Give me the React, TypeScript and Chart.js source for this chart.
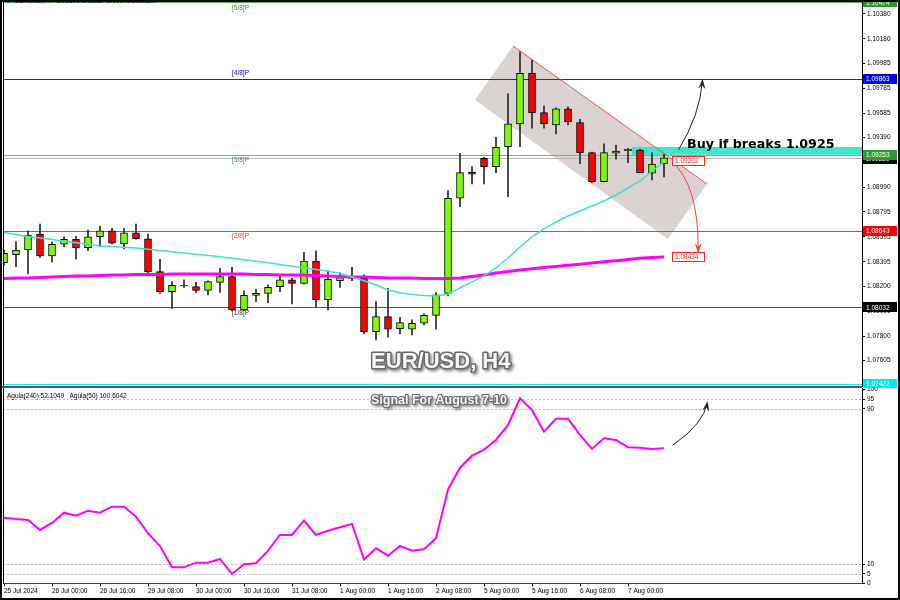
import React, { useEffect, useRef } from "react";
import { Chart, registerables } from "chart.js";
Chart.register(...registerables);

// ---- Candles (EURUSD H4), index 0 = 25 Jul 08:00 ----
const opens = [1.08389,1.08453,1.08491,1.08619,1.08443,1.08537,1.08577,1.08509,1.08597,1.08645,1.08539,1.08629,1.08581,1.08317,1.08157,1.08207,1.08197,1.08168,1.08232,1.08277,1.08011,1.08128,1.08144,1.08197,1.08251,1.08224,1.08403,1.08091,1.08245,1.08267,1.08264,1.07837,1.07957,1.07861,1.07856,1.07904,1.07968,1.08144,1.08905,1.09115,1.09225,1.09158,1.09318,1.09500,1.09905,1.09590,1.09492,1.09620,1.09510,1.09270,1.09038,1.09265,1.09286,1.09291,1.09105,1.09179];
const highs = [1.08491,1.08558,1.08645,1.08699,1.08555,1.08597,1.08603,1.08651,1.08683,1.08665,1.08665,1.08699,1.08619,1.08417,1.08237,1.08251,1.08232,1.08243,1.08344,1.08352,1.08163,1.08176,1.08211,1.08297,1.08264,1.08473,1.08485,1.08325,1.08309,1.08352,1.08291,1.08077,1.08184,1.07952,1.07931,1.07979,1.08149,1.08966,1.09265,1.09158,1.09233,1.09393,1.09740,1.10078,1.10012,1.09644,1.09628,1.09636,1.09537,1.09275,1.09340,1.09331,1.09305,1.09297,1.09270,1.09257];
const lows = [1.08371,1.08357,1.08299,1.08432,1.08393,1.08517,1.08417,1.08485,1.08517,1.08539,1.08499,1.08577,1.08309,1.08144,1.08024,1.08192,1.08149,1.08131,1.08152,1.08003,1.08005,1.08077,1.08069,1.08157,1.08059,1.08219,1.08032,1.08011,1.08192,1.08245,1.07819,1.07771,1.07792,1.07819,1.07811,1.07891,1.07856,1.08123,1.08838,1.09019,1.09019,1.09110,1.08918,1.09318,1.09465,1.09465,1.09419,1.09492,1.09181,1.09030,1.09035,1.09217,1.09190,1.09107,1.09051,1.09075];
const closes = [1.08464,1.08491,1.08611,1.08443,1.08537,1.08577,1.08509,1.08597,1.08645,1.08545,1.08629,1.08581,1.08315,1.08157,1.08208,1.08203,1.08168,1.08237,1.08277,1.08011,1.08128,1.08144,1.08192,1.08251,1.08224,1.08403,1.08091,1.08256,1.08269,1.08264,1.07837,1.07957,1.07856,1.07909,1.07904,1.07968,1.08131,1.08905,1.09110,1.09097,1.09158,1.09313,1.09500,1.09905,1.09590,1.09500,1.09620,1.09518,1.09270,1.09038,1.09270,1.09283,1.09297,1.09110,1.09179,1.09229];

// ---- Moving averages ----
const maFast = [1.08631,1.08615,1.08599,1.08587,1.08575,1.08561,1.08549,1.08536,1.08523,1.08518,1.08512,1.08507,1.08497,1.08487,1.08477,1.08466,1.08457,1.08447,1.08437,1.08425,1.08413,1.08401,1.08389,1.08375,1.08361,1.08349,1.08335,1.08320,1.08304,1.08275,1.08245,1.08211,1.08171,1.08149,1.08134,1.08127,1.08123,1.08139,1.08187,1.08235,1.08283,1.08347,1.08427,1.08515,1.08595,1.08659,1.08715,1.08763,1.08803,1.08843,1.08883,1.08931,1.08987,1.09043,1.09123,1.09195];
const maSlow = [1.08263,1.08267,1.08267,1.08271,1.08275,1.08279,1.08283,1.08283,1.08287,1.08291,1.08291,1.08295,1.08295,1.08295,1.08299,1.08299,1.08299,1.08299,1.08299,1.08299,1.08299,1.08295,1.08295,1.08291,1.08291,1.08291,1.08287,1.08283,1.08279,1.08275,1.08275,1.08271,1.08267,1.08267,1.08267,1.08263,1.08263,1.08263,1.08267,1.08279,1.08291,1.08307,1.08319,1.08331,1.08341,1.08350,1.08359,1.08368,1.08377,1.08387,1.08396,1.08405,1.08414,1.08424,1.08430,1.08434];

// ---- Oscillator (Agula) ----
const oscValues = [33.9,33.2,32.7,27.6,31.2,36.5,34.9,37.5,36.5,39.6,39.6,34.4,25.9,19.3,8.3,8.3,10.7,10.7,12.6,4.9,9.9,10.4,16.9,25.0,25.0,32.4,25.0,27.2,29.0,30.7,12.4,18.1,14.3,19.3,16.9,17.6,23.3,48.5,59.7,65.9,68.9,74.0,81.8,95.5,89.5,78.3,84.9,84.9,76.6,69.4,74.9,74.0,70.2,70.0,69.4,69.7];
const oscLevels = [95, 90, 10, 5];
const oscTicks = [100, 95, 90, 10, 5, 0];

// ---- Axes ----
const timeLabels = ["25 Jul 2024","26 Jul 00:00","26 Jul 16:00","29 Jul 08:00","30 Jul 00:00","30 Jul 16:00","31 Jul 08:00","1 Aug 00:00","1 Aug 16:00","2 Aug 08:00","5 Aug 00:00","5 Aug 16:00","6 Aug 08:00","7 Aug 00:00"];
const timeTickIdx = [0,4,8,12,16,20,24,28,32,36,40,44,48,52];
const priceTicks = [1.10380,1.10180,1.09985,1.09785,1.09585,1.09390,1.09190,1.08990,1.08795,1.08595,1.08395,1.08200,1.08000,1.07800,1.07605];

// ---- Murrey levels ----
const murreyLevels = [1.10474, 1.09863, 1.09253, 1.08643, 1.08032, 1.07422];
const murreyNames = ["[5/8]P", "[4/8]P", "[3/8]P", "[2/8]P", "[1/8]P", "[0/8]P"];
const murreyLineColors = ["#49b049", "#1a1aff", "#6abf6a", "#ff3030", "#555555", "#22e8ee"];
const murreyBoxColors = ["#2f9a2f", "#0000ff", "#2f9a2f", "#ff0000", "#000000", "#00e8f0"];
const murreyTextColors = ["#2f9a2f", "#0000ff", "#2f9a2f", "#ff3030", "#333333", "#00d0d8"];
const murreyTextAbove = [false, true, false, false, false, false];
const bidPrice = 1.09229;

// ---- Annotations (index, price) ----
const channelI = [42.42, 58.58, 55.33, 39.25];
const channelP = [1.10124, 1.09019, 1.08579, 1.09692];
const zoneStartI = 52.33;
const zoneTop = 1.09316;
const zoneBottom = 1.09253;
const targetUp = 1.09202;
const targetDown = 1.08434;

const FONT = "'Liberation Sans', Arial, sans-serif";

function curvedArrow(ctx: CanvasRenderingContext2D, x0: number, y0: number, cx: number, cy: number, x1: number, y1: number, color: string, lw: number) {
  ctx.save();
  ctx.strokeStyle = color;
  ctx.lineWidth = lw;
  ctx.beginPath();
  ctx.moveTo(x0, y0);
  ctx.quadraticCurveTo(cx, cy, x1, y1);
  ctx.stroke();
  const ang = Math.atan2(y1 - cy, x1 - cx);
  const L = 8, W = 3.5;
  const c = Math.cos(ang), s = Math.sin(ang);
  ctx.fillStyle = color;
  ctx.beginPath();
  ctx.moveTo(x1 + c * 2, y1 + s * 2);
  ctx.lineTo(x1 - c * L + s * W, y1 - s * L - c * W);
  ctx.lineTo(x1 - c * L * 0.55, y1 - s * L * 0.55);
  ctx.lineTo(x1 - c * L - s * W, y1 - s * L + c * W);
  ctx.closePath();
  ctx.fill();
  ctx.restore();
}

function box(ctx: CanvasRenderingContext2D, x: number, yc: number, w: number, text: string, bg: string, fg: string, border?: string) {
  ctx.save();
  const h = 10;
  ctx.fillStyle = bg;
  ctx.fillRect(x, Math.round(yc - h / 2), w, h);
  if (border) {
    ctx.strokeStyle = border;
    ctx.lineWidth = 1;
    ctx.strokeRect(x + 0.5, Math.round(yc - h / 2) + 0.5, w - 1, h - 1);
  }
  ctx.fillStyle = fg;
  ctx.font = `6.5px ${FONT}`;
  ctx.textBaseline = "middle";
  ctx.textAlign = "left";
  ctx.fillText(text, x + 3, yc + 0.5);
  ctx.restore();
}

function embossText(ctx: CanvasRenderingContext2D, text: string, x: number, y: number, size: number) {
  ctx.save();
  ctx.font = `bold ${size}px ${FONT}`;
  ctx.textAlign = "center";
  ctx.textBaseline = "middle";
  ctx.lineJoin = "round";
  ctx.shadowColor = "rgba(0,0,0,0.45)";
  ctx.shadowBlur = 3;
  ctx.shadowOffsetX = 2;
  ctx.shadowOffsetY = 2;
  ctx.strokeStyle = "#6a6a6a";
  ctx.lineWidth = size > 16 ? 3 : 2.2;
  ctx.strokeText(text, x, y);
  ctx.shadowColor = "transparent";
  ctx.fillStyle = "#f6f6f6";
  ctx.fillText(text, x, y);
  ctx.restore();
}

export default function App() {
  const topRef = useRef<HTMLCanvasElement>(null);
  const botRef = useRef<HTMLCanvasElement>(null);

  useEffect(() => {
    document.body.style.margin = "0";
    const idx = opens.map((_, i) => i);
    const xMin = -1 / 12;
    const xMax = 71.5;

    const mainPlugin = {
      id: "mainOverlay",
      beforeDatasetsDraw(chart: any) {
        const { ctx, chartArea: a, scales } = chart;
        const x = scales.x, y = scales.y;
        ctx.save();
        ctx.beginPath();
        ctx.rect(a.left, a.top, a.right - a.left, a.bottom - a.top);
        ctx.clip();
        ctx.setLineDash([]);
        // channel
        ctx.beginPath();
        channelI.forEach((ci: number, k: number) => {
          const X = x.getPixelForValue(ci), Y = y.getPixelForValue(channelP[k]);
          if (k) ctx.lineTo(X, Y); else ctx.moveTo(X, Y);
        });
        ctx.closePath();
        ctx.fillStyle = "rgba(175,155,155,0.45)";
        ctx.fill();
        // cyan zone
        const zx = x.getPixelForValue(zoneStartI);
        const zt = y.getPixelForValue(zoneTop), zb = y.getPixelForValue(zoneBottom);
        ctx.fillStyle = "#3ee6cc";
        ctx.fillRect(zx, zt, a.right - zx, zb - zt);
        // bid line
        const by = Math.round(y.getPixelForValue(bidPrice)) + 0.5;
        ctx.lineWidth = 1;
        ctx.strokeStyle = "#b8b8b8";
        ctx.beginPath();
        ctx.moveTo(a.left, by);
        ctx.lineTo(a.right, by);
        ctx.stroke();
        // murrey lines
        for (let k = 0; k < murreyLevels.length; k++) {
          const Y = Math.round(y.getPixelForValue(murreyLevels[k]));
          ctx.fillStyle = murreyLineColors[k];
          ctx.fillRect(a.left, Y, a.right - a.left, 1);
        }
        // channel red upper edge
        ctx.strokeStyle = "#ff4a4a";
        ctx.beginPath();
        ctx.moveTo(x.getPixelForValue(channelI[0]), y.getPixelForValue(channelP[0]));
        ctx.lineTo(x.getPixelForValue(channelI[1]), y.getPixelForValue(channelP[1]));
        ctx.stroke();
        // murrey labels
        ctx.font = `6.5px ${FONT}`;
        ctx.textBaseline = "middle";
        ctx.textAlign = "left";
        murreyLevels.forEach((lv: number, k: number) => {
          const Y = y.getPixelForValue(lv) + (murreyTextAbove[k] ? -5 : 5.5);
          ctx.fillStyle = murreyTextColors[k];
          ctx.fillText(murreyNames[k], x.getPixelForValue(19), Y);
        });
        ctx.restore();
      },
      afterDraw(chart: any) {
        const { ctx, chartArea: a, scales } = chart;
        const x = scales.x, y = scales.y;
        const P = (i: number, p: number) => [x.getPixelForValue(i), y.getPixelForValue(p)];
        // header
        ctx.save();
        ctx.fillStyle = "#000";
        ctx.beginPath();
        ctx.moveTo(5, 0); ctx.lineTo(11, 0); ctx.lineTo(8, 3); ctx.closePath(); ctx.fill();
        ctx.font = `6.5px ${FONT}`;
        ctx.textBaseline = "alphabetic";
        ctx.fillText("EURUSD,H4  1.09179 1.09257 1.09075 1.09229", 15, 3);
        ctx.restore();
        // arrows
        const [ux0, uy0] = P(56.2, 1.09291), [ucx, ucy] = P(58.0, 1.09572), [ux1, uy1] = P(58.2, 1.09845);
        curvedArrow(ctx, ux0, uy0, ucx, ucy, ux1, uy1, "#222222", 1);
        const [dx0, dy0] = P(55.67, 1.09195), [dcx, dcy] = P(57.9, 1.09011), [dx1, dy1] = P(57.85, 1.08480);
        curvedArrow(ctx, dx0, dy0, dcx, dcy, dx1, dy1, "#ff3a3a", 1);
        // price tag boxes
        const tx = x.getPixelForValue(55.67);
        box(ctx, tx, y.getPixelForValue(targetUp), 33, "1.09202", "#ffffff", "#ff2020", "#ff2020");
        box(ctx, tx, y.getPixelForValue(targetDown), 33, "1.08434", "#ffffff", "#ff2020", "#ff2020");
        // Buy text
        ctx.save();
        ctx.font = "bold 12.7px 'DejaVu Sans', sans-serif";
        ctx.fillStyle = "#000";
        ctx.textBaseline = "middle";
        ctx.fillText("Buy if breaks 1.0925", x.getPixelForValue(56.92), y.getPixelForValue(1.09331));
        ctx.restore();
        // big title
        embossText(ctx, "EUR/USD, H4", x.getPixelForValue(36.4), y.getPixelForValue(1.07595), 22);
        // right axis level boxes
        const bx = a.right + 1;
        box(ctx, bx, y.getPixelForValue(bidPrice) + 1, 34, bidPrice.toFixed(5), "#000000", "#ffffff");
        murreyLevels.forEach((lv: number, k: number) => {
          box(ctx, bx, y.getPixelForValue(lv), 34, lv.toFixed(5), murreyBoxColors[k], "#ffffff");
        });
        // pane borders
        ctx.save();
        ctx.strokeStyle = "#000";
        ctx.lineWidth = 1;
        ctx.beginPath();
        ctx.moveTo(3.5, 0); ctx.lineTo(3.5, 388);
        ctx.stroke();
        ctx.strokeStyle = "#5a5a5a";
        ctx.lineWidth = 2;
        ctx.beginPath();
        ctx.moveTo(0, 387); ctx.lineTo(a.right, 387);
        ctx.stroke();
        ctx.restore();
      },
    };

    const oscPlugin = {
      id: "oscOverlay",
      beforeDatasetsDraw(chart: any) {
        const { ctx, chartArea: a, scales } = chart;
        const y = scales.y;
        ctx.save();
        ctx.strokeStyle = "#bdbdbd";
        ctx.lineWidth = 1;
        ctx.setLineDash([2, 2]);
        oscLevels.forEach((lv: number) => {
          const Y = Math.round(y.getPixelForValue(lv)) + 0.5;
          ctx.beginPath();
          ctx.moveTo(a.left, Y);
          ctx.lineTo(a.right, Y);
          ctx.stroke();
        });
        ctx.restore();
      },
      afterDraw(chart: any) {
        const { ctx, chartArea: a, scales } = chart;
        const x = scales.x, y = scales.y;
        ctx.save();
        ctx.font = `6.5px ${FONT}`;
        ctx.fillStyle = "#000";
        ctx.textBaseline = "middle";
        ctx.fillText("Agula(240) 52.1049   Agula(50) 100.6042", a.left + 4, a.top + 8);
        ctx.restore();
        embossText(ctx, "Signal For August 7-10", x.getPixelForValue(36.25), y.getPixelForValue(94.1), 12.5);
        curvedArrow(ctx, x.getPixelForValue(55.75), y.getPixelForValue(71.4), x.getPixelForValue(58.3), y.getPixelForValue(82.5), x.getPixelForValue(58.6), y.getPixelForValue(93.0), "#222222", 1);
        ctx.save();
        ctx.strokeStyle = "#000";
        ctx.lineWidth = 1;
        ctx.beginPath();
        ctx.moveTo(3.5, 0); ctx.lineTo(3.5, a.bottom);
        ctx.stroke();
        ctx.restore();
      },
    };

    const top = new Chart(topRef.current as HTMLCanvasElement, {
      type: "bar",
      data: {
        datasets: [
          { type: "line", label: "MA fast", data: idx.map((i) => ({ x: i, y: maFast[i] })), borderColor: "#3fe0d0", borderWidth: 1.5, pointRadius: 0, tension: 0, order: 0 } as any,
          { type: "line", label: "MA slow", data: idx.map((i) => ({ x: i, y: maSlow[i] })), borderColor: "#ff00ff", borderWidth: 3, pointRadius: 0, tension: 0, order: 1 } as any,
          { type: "bar", label: "body", data: idx.map((i) => ({ x: i, y: [opens[i], closes[i]] })), backgroundColor: idx.map((i) => (closes[i] >= opens[i] ? "#7cfc00" : "#ff0000")), borderColor: "#000", borderWidth: 1, borderSkipped: false, barThickness: 7, grouped: false, order: 2 } as any,
          { type: "bar", label: "wick", data: idx.map((i) => ({ x: i, y: [lows[i], highs[i]] })), backgroundColor: "#2a2a2a", borderWidth: 0, barThickness: 1, grouped: false, order: 3 } as any,
        ],
      },
      options: {
        responsive: false,
        animation: false,
        devicePixelRatio: 1,
        events: [],
        layout: { padding: { left: 3, top: 0, right: 0, bottom: 2 } },
        plugins: { legend: { display: false }, tooltip: { enabled: false } },
        scales: {
          x: { type: "linear", min: xMin, max: xMax, display: false, offset: false },
          y: {
            type: "linear",
            position: "right",
            min: 1.07402,
            max: 1.10492,
            afterBuildTicks: (s: any) => { s.ticks = priceTicks.map((v) => ({ value: v })); },
            afterFit: (s: any) => { s.width = 38; s.paddingTop = 0; s.paddingBottom = 0; },
            ticks: { autoSkip: false, callback: (v: any) => Number(v).toFixed(5), font: { family: FONT, size: 6.5 }, color: "#000", padding: 2 },
            grid: { drawOnChartArea: false, drawTicks: true, tickLength: 3, color: "#000" },
            border: { display: true, color: "#000" },
          },
        },
      } as any,
      plugins: [mainPlugin],
    });

    const bot = new Chart(botRef.current as HTMLCanvasElement, {
      type: "line",
      data: {
        datasets: [
          { label: "Agula", data: idx.map((i) => ({ x: i, y: oscValues[i] })), borderColor: "#ff00ff", borderWidth: 2, pointRadius: 0, tension: 0 },
        ],
      },
      options: {
        responsive: false,
        animation: false,
        devicePixelRatio: 1,
        events: [],
        layout: { padding: { left: 3, top: 0, right: 0, bottom: 0 } },
        plugins: { legend: { display: false }, tooltip: { enabled: false } },
        scales: {
          x: {
            type: "linear",
            min: xMin,
            max: xMax,
            position: "bottom",
            afterBuildTicks: (s: any) => { s.ticks = timeTickIdx.map((v) => ({ value: v })); },
            afterFit: (s: any) => { s.height = 16.6; s.paddingLeft = 0; s.paddingRight = 0; },
            ticks: { autoSkip: false, maxRotation: 0, minRotation: 0, align: "start", padding: 1, font: { family: FONT, size: 6.5 }, color: "#000", callback: (_v: any, index: number) => timeLabels[index] },
            grid: { drawOnChartArea: false, drawTicks: true, tickLength: 3, color: "#000" },
            border: { display: true, color: "#444" },
          },
          y: {
            type: "linear",
            position: "right",
            min: 0,
            max: 100.83,
            afterBuildTicks: (s: any) => { s.ticks = oscTicks.map((v) => ({ value: v })); },
            afterFit: (s: any) => { s.width = 38; s.paddingTop = 0; s.paddingBottom = 0; },
            ticks: { autoSkip: false, font: { family: FONT, size: 6.5 }, color: "#000", padding: 2, callback: (v: any) => String(v) },
            grid: { drawOnChartArea: false, drawTicks: true, tickLength: 3, color: "#000" },
            border: { display: true, color: "#000" },
          },
        },
      } as any,
      plugins: [oscPlugin],
    });

    return () => {
      top.destroy();
      bot.destroy();
    };
  }, []);

  return (
    <div style={{ position: "relative", width: 900, height: 600, background: "#fff", overflow: "hidden" }}>
      <canvas ref={topRef} width={900} height={388} style={{ position: "absolute", left: 0, top: 0, display: "block" }} />
      <canvas ref={botRef} width={900} height={212} style={{ position: "absolute", left: 0, top: 388, display: "block" }} />
      <div style={{ position: "absolute", left: 0, top: 0, width: 900, height: 600, border: "2px solid #000", boxSizing: "border-box", pointerEvents: "none" }} />
    </div>
  );
}
